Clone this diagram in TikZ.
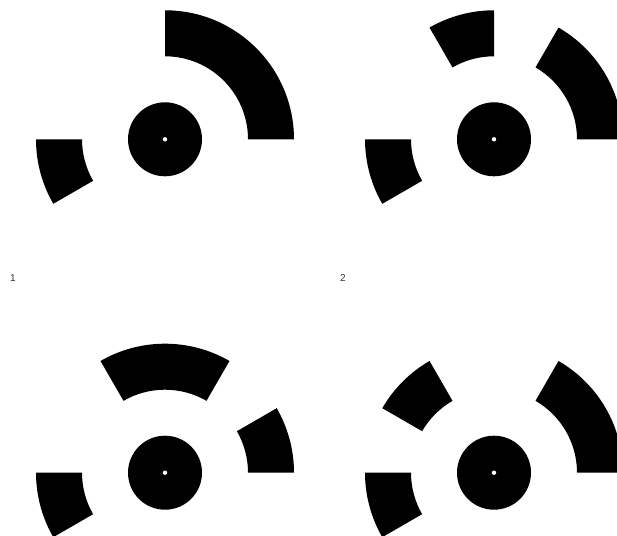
\documentclass[tikz,border=0pt]{standalone}
\usepackage{fontspec}
\setmainfont{Liberation Sans}
\usetikzlibrary{calc}

\begin{document}
\begin{tikzpicture}[x=1pt,y=1pt]
        \clip (0,0) rectangle (617,535);
        % Centres
        \coordinate (c1) at (165,395.7);
        \coordinate (c2) at (494,395.7);
        \coordinate (c3) at (165,62.3);
        \coordinate (c4) at (494,62.3);
        % Ring pieces
        \foreach \c/\a/\b in {c1/0/90, c1/180/210,
                              c2/0/60, c2/90/120, c2/180/210,
                              c3/0/30, c3/60/120, c3/180/210,
                              c4/0/60, c4/120/150, c4/180/210}
          \fill ($(\c)+(\a:129pt)$) arc[start angle=\a, end angle=\b, radius=129pt]
            -- ($(\c)+(\b:83pt)$) arc[start angle=\b, end angle=\a, radius=83pt] -- cycle;
        % Discs
        \foreach \c in {c1,c2,c3,c4} {
          \fill (\c) circle[radius=37pt];
          \fill[white] (\c) circle[radius=2.2pt];
        }
        \node[font=\fontsize{10}{10}\selectfont, text=black!80] (l1) at (13,257) {1};
        \node[font=\fontsize{10}{10}\selectfont, text=black!80] (l2) at (343,257) {2};
      \end{tikzpicture}
\end{document}
